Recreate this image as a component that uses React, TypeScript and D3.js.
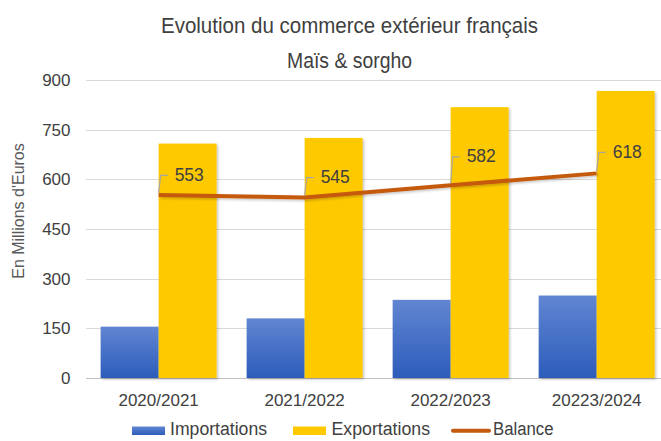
import React, { useRef, useEffect } from 'react';
import * as d3 from 'd3';

const categories = ['2020/2021', '2021/2022', '2022/2023', '20223/2024'];
const importations = [155, 180, 236, 249];
const exportations = [708, 725, 818, 867];
const balance = [553, 545, 582, 618];
const yTicks = [0, 150, 300, 450, 600, 750, 900];
const series = ['Importations', 'Exportations'];
// how far above each point the data label was dragged in the original
const labelLift = [20.5, 21, 29.5, 22];

const W = 661;
const H = 441;
const TXT = '#404040';
const FONT = '"Liberation Sans", Arial, sans-serif';

export default function App() {
    const ref = useRef<SVGSVGElement | null>(null);

    useEffect(() => {
        if (!ref.current) return;
        const svg = d3.select(ref.current);
        svg.selectAll('*').remove();

        const defs = svg.append('defs');
        const grad = defs.append('linearGradient')
            .attr('id', 'impGrad').attr('x1', 0).attr('x2', 0).attr('y1', 0).attr('y2', 1);
        grad.append('stop').attr('offset', '0%').attr('stop-color', '#6186d2');
        grad.append('stop').attr('offset', '100%').attr('stop-color', '#2c5cba');
        const sh = defs.append('filter').attr('id', 'shadow')
            .attr('x', '-20%').attr('y', '-20%').attr('width', '140%').attr('height', '140%');
        sh.append('feDropShadow').attr('dx', 1.5).attr('dy', 1.5).attr('stdDeviation', 1.2)
            .attr('flood-color', '#000').attr('flood-opacity', 0.22);

        const y = d3.scaleLinear().domain([0, 900]).range([378, 80]);
        const x = d3.scaleBand<string>().domain(categories).range([85.3, 670])
            .paddingInner(0.2055).paddingOuter(0.105);
        const xs = d3.scaleBand<string>().domain(series).range([0, x.bandwidth()]);
        const cx = (c: string) => x(c)! + x.bandwidth() / 2;

        // title (narrow face in the original, so squeeze it)
        const title = svg.append('g')
            .style('font-family', FONT).style('font-size', '22px')
            .attr('fill', TXT);
        title.append('text').attr('x', 161).attr('y', 33)
            .attr('textLength', 377).attr('lengthAdjust', 'spacingAndGlyphs')
            .text('Evolution du commerce extérieur français');
        title.append('text').attr('x', 287).attr('y', 68)
            .attr('textLength', 125).attr('lengthAdjust', 'spacingAndGlyphs')
            .text('Maïs & sorgho');

        // grid
        svg.append('g').selectAll('line').data(yTicks).enter().append('line')
            .attr('x1', 86).attr('x2', W)
            .attr('y1', d => Math.round(y(d)) + 0.5).attr('y2', d => Math.round(y(d)) + 0.5)
            .attr('stroke', d => (d === 0 ? '#bfbfbf' : '#d9d9d9')).attr('stroke-width', 1);

        // y tick labels
        svg.append('g').selectAll('text').data(yTicks).enter().append('text')
            .attr('x', 70.5).attr('y', d => y(d)).attr('dy', '0.36em')
            .attr('text-anchor', 'end').attr('fill', TXT)
            .style('font-family', FONT).style('font-size', '17px')
            .text(d => d);

        svg.append('text')
            .attr('transform', 'translate(24,211) rotate(-90)')
            .attr('text-anchor', 'middle').attr('fill', '#595959')
            .style('font-family', FONT).style('font-size', '16px')
            .text("En Millions d'Euros");

        // bars
        const groups = svg.append('g').selectAll('g').data(categories).enter().append('g')
            .attr('transform', d => `translate(${x(d)},0)`);
        groups.append('rect')
            .attr('x', xs('Importations')!).attr('width', xs.bandwidth())
            .attr('y', (d, i) => y(importations[i])).attr('height', (d, i) => y(0) - y(importations[i]))
            .attr('fill', 'url(#impGrad)').attr('filter', 'url(#shadow)');
        groups.append('rect')
            .attr('x', xs('Exportations')!).attr('width', xs.bandwidth())
            .attr('y', (d, i) => y(exportations[i])).attr('height', (d, i) => y(0) - y(exportations[i]))
            .attr('fill', '#ffc900').attr('filter', 'url(#shadow)');

        // balance line
        const line = d3.line<number>().x((d, i) => cx(categories[i])).y(d => y(d));
        svg.append('path').datum(balance).attr('d', line)
            .attr('fill', 'none').attr('stroke', '#c55a11').attr('stroke-width', 4)
            .attr('stroke-linejoin', 'round').attr('filter', 'url(#shadow)');

        // data labels with leader lines
        const labs = svg.append('g').selectAll('g').data(balance).enter().append('g');
        labs.append('path')
            .attr('d', (d, i) => {
                const px = cx(categories[i]);
                const py = y(d) - 2;
                const ty = y(d) - labelLift[i] + 1;
                return `M${px},${py} L${px + 2},${ty} L${px + 9},${ty}`;
            })
            .attr('fill', 'none').attr('stroke', '#a6a6a6').attr('stroke-width', 1.2);
        labs.append('text')
            .attr('x', (d, i) => cx(categories[i]) + 16)
            .attr('y', (d, i) => y(d) - labelLift[i]).attr('dy', '0.36em')
            .attr('fill', TXT)
            .style('font-family', FONT).style('font-size', '17.5px')
            .text(d => d);

        // x labels
        svg.append('g').selectAll('text').data(categories).enter().append('text')
            .attr('x', d => cx(d)).attr('y', 405.5)
            .attr('text-anchor', 'middle').attr('fill', TXT)
            .style('font-family', FONT).style('font-size', '17px')
            .text(d => d);

        // legend
        const leg = svg.append('g')
            .style('font-family', FONT).style('font-size', '18px').attr('fill', TXT);
        leg.append('rect').attr('x', 132).attr('y', 426.5).attr('width', 33).attr('height', 8.5).attr('fill', 'url(#impGrad)');
        leg.append('text').attr('x', 170).attr('y', 434.5)
            .attr('textLength', 97).attr('lengthAdjust', 'spacingAndGlyphs').text('Importations');
        leg.append('rect').attr('x', 293).attr('y', 426.5).attr('width', 33).attr('height', 8.5).attr('fill', '#ffc900');
        leg.append('text').attr('x', 331.5).attr('y', 434.5)
            .attr('textLength', 98.5).attr('lengthAdjust', 'spacingAndGlyphs').text('Exportations');
        leg.append('line').attr('x1', 453).attr('x2', 489).attr('y1', 430.7).attr('y2', 430.7)
            .attr('stroke', '#c55a11').attr('stroke-width', 4).attr('stroke-linecap', 'round');
        leg.append('text').attr('x', 493).attr('y', 434.5)
            .attr('textLength', 60.5).attr('lengthAdjust', 'spacingAndGlyphs').text('Balance');
    }, []);

    return (
        <div style={{ position: 'fixed', left: 0, top: 0, width: W, height: H, background: '#fff' }}>
            <svg ref={ref} width={W} height={H} style={{ display: 'block' }} />
        </div>
    );
}
